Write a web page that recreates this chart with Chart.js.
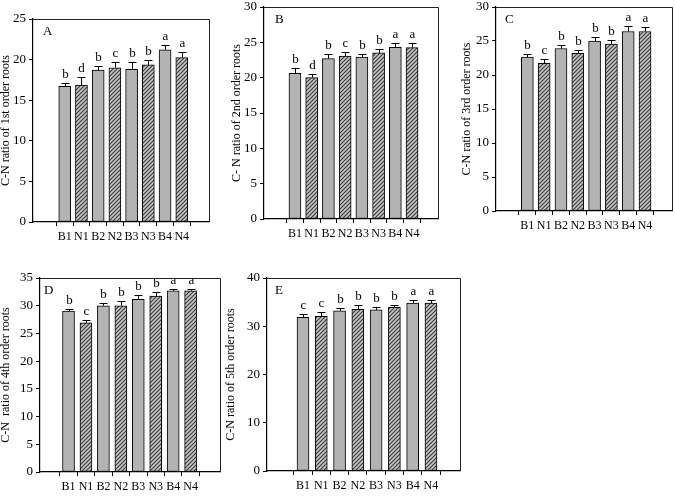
<!DOCTYPE html>
<html><head><meta charset="utf-8">
<script src="https://cdn.jsdelivr.net/npm/chart.js@4.4.1/dist/chart.umd.min.js"></script>
<style>
html,body{margin:0;padding:0;background:#fff;width:675px;height:496px;overflow:hidden}
canvas{position:absolute}
</style></head><body>
<canvas id="cA"></canvas><canvas id="cB"></canvas><canvas id="cC"></canvas><canvas id="cD"></canvas><canvas id="cE"></canvas>
<script>
const categories = ['B1','N1','B2','N2','B3','N3','B4','N4'];

const valuesA  = [16.7, 16.85, 18.7, 19.0, 18.8, 19.35, 21.2, 20.25];
const errorsA  = [0.4, 1.05, 0.5, 0.7, 0.9, 0.55, 0.6, 0.65];
const lettersA = ['b','d','b','c','b','b','a','a'];

const valuesB  = [20.6, 20.0, 22.7, 23.05, 22.9, 23.5, 24.3, 24.25];
const errorsB  = [0.7, 0.5, 0.65, 0.65, 0.45, 0.5, 0.55, 0.6];
const lettersB = ['b','d','b','c','b','b','a','a'];

const valuesC  = [22.65, 21.7, 23.9, 23.2, 25.0, 24.55, 26.4, 26.4];
const errorsC  = [0.45, 0.6, 0.5, 0.5, 0.6, 0.65, 0.8, 0.65];
const lettersC = ['b','c','b','b','b','b','a','a'];

const valuesD  = [29.05, 26.9, 30.0, 30.0, 31.15, 31.75, 32.7, 32.7];
const errorsD  = [0.4, 0.6, 0.55, 0.8, 0.75, 0.75, 0.4, 0.4];
const lettersD = ['b','c','b','b','b','b','a','a'];

const valuesE  = [31.85, 32.05, 33.2, 33.5, 33.4, 33.9, 34.8, 34.8];
const errorsE  = [0.65, 0.9, 0.65, 0.9, 0.6, 0.6, 0.55, 0.55];
const lettersE = ['c','c','b','b','b','b','a','a'];

const yTicksA = [0,5,10,15,20,25];
const yTicksB = [0,5,10,15,20,25,30];
const yTicksC = [0,5,10,15,20,25,30];
const yTicksD = [0,5,10,15,20,25,30,35];
const yTicksE = [0,10,20,30,40];

const titles = {
  A: 'C-N ratio of 1st order roots',
  B: 'C- N ratio of 2nd order roots',
  C: 'C-N ratio of 3rd order roots',
  D: 'C-N  ratio of 4th order roots',
  E: 'C-N ratio of 5th order roots'
};

const panels = [
  {key:'A', values:valuesA, errors:errorsA, letters:lettersA, yTicks:yTicksA, area:{l:33,t:19,r:209,b:222}, titleX:7,   xMin:-1.24, xMax:7.97, ldx:10},
  {key:'B', values:valuesB, errors:errorsB, letters:lettersB, yTicks:yTicksB, area:{l:264,t:7,r:438,b:219}, titleX:238, xMin:-1.2,  xMax:7.9,  ldx:11},
  {key:'C', values:valuesC, errors:errorsC, letters:lettersC, yTicks:yTicksC, area:{l:496,t:7,r:672,b:211}, titleX:468, xMin:-1.21, xMax:7.95, ldx:9},
  {key:'D', values:valuesD, errors:errorsD, letters:lettersD, yTicks:yTicksD, area:{l:40,t:278,r:220,b:472}, titleX:7,   xMin:-0.99, xMax:8.04, ldx:4},
  {key:'E', values:valuesE, errors:errorsE, letters:lettersE, yTicks:yTicksE, area:{l:267,t:278,r:460,b:471}, titleX:232, xMin:-1.31, xMax:7.93, ldx:8}
];

const FONT = '"Liberation Serif", "Times New Roman", serif';
const SOLID = '#b3b3b3';

function makeHatch(){
  const t = document.createElement('canvas');
  t.width = 4; t.height = 4;
  const g = t.getContext('2d');
  g.fillStyle = '#c4c4c4'; g.fillRect(0,0,4,4);
  g.strokeStyle = '#3a3a3a'; g.lineWidth = 1.1;
  g.beginPath();
  g.moveTo(-1,5); g.lineTo(5,-1);
  g.moveTo(-1,1); g.lineTo(1,-1);
  g.moveTo(3,5); g.lineTo(5,3);
  g.stroke();
  return g.createPattern(t,'repeat');
}

const extrasPlugin = {
  id:'extras',
  afterDatasetsDraw(chart, args, opts){
    const ctx = chart.ctx, xs = chart.scales.x, ys = chart.scales.y, ca = chart.chartArea;
    const p = opts.panel;
    ctx.save();
    ctx.strokeStyle = '#000'; ctx.lineWidth = 1;
    ctx.fillStyle = '#000';
    ctx.font = '13px ' + FONT;
    ctx.textAlign = 'center'; ctx.textBaseline = 'bottom';
    p.values.forEach((v,i)=>{
      const x = Math.round(xs.getPixelForValue(i)) + 0.5;
      const yb = ys.getPixelForValue(v);
      const yt = Math.round(ys.getPixelForValue(v + p.errors[i])) + 0.5;
      ctx.beginPath();
      ctx.moveTo(x, yb); ctx.lineTo(x, yt);
      ctx.moveTo(x-4, yt); ctx.lineTo(x+4, yt);
      ctx.stroke();
      ctx.fillText(p.letters[i], x, yt - 2);
    });
    ctx.strokeStyle = '#222';
    ctx.beginPath();
    ctx.moveTo(ca.left, Math.round(ca.top)+0.5);
    ctx.lineTo(Math.round(ca.right)+0.5, Math.round(ca.top)+0.5);
    ctx.lineTo(Math.round(ca.right)+0.5, ca.bottom);
    ctx.stroke();
    ctx.textAlign = 'left'; ctx.textBaseline = 'top';
    ctx.font = '13px ' + FONT;
    ctx.fillText(p.key, ca.left + p.ldx, ca.top + 6);
    ctx.restore();
  }
};

const hatch = makeHatch();

panels.forEach(p=>{
  const a = p.area;
  const left = p.titleX - 8, top = a.t - 12;
  const width = a.r + 6 - left, height = a.b + 32 - top;
  const cv = document.getElementById('c' + p.key);
  cv.width = width; cv.height = height;
  cv.style.left = left + 'px'; cv.style.top = top + 'px';
  cv.style.width = width + 'px'; cv.style.height = height + 'px';
  const yW = a.l - left;
  new Chart(cv, {
    type:'bar',
    data:{
      datasets:[{
        data: p.values.map((v,i)=>({x:i, y:v})),
        backgroundColor: p.values.map((v,i)=> i%2===0 ? SOLID : hatch),
        borderColor:'#000',
        borderWidth:1,
        borderSkipped:false,
        barThickness:12
      }]
    },
    options:{
      responsive:false,
      animation:false,
      devicePixelRatio:1,
      layout:{padding:{top:12,right:6,left:0,bottom:0}},
      plugins:{legend:{display:false}, tooltip:{enabled:false}, extras:{panel:p}},
      scales:{
        x:{
          type:'linear', min:p.xMin, max:p.xMax,
          afterBuildTicks(s){ s.ticks = categories.map((c,i)=>({value:i})); },
          afterFit(s){ s.height = 32; },
          ticks:{autoSkip:false, maxRotation:0, minRotation:0, padding:4, color:'#000',
                 font:{family:FONT, size:12}, callback:(v)=>categories[v] ?? ''},
          grid:{display:true, drawOnChartArea:false, drawTicks:true, tickLength:4, color:'#000'},
          border:{display:true, color:'#000', width:1.2}
        },
        y:{
          min:0, max:p.yTicks[p.yTicks.length-1],
          afterBuildTicks(s){ s.ticks = p.yTicks.map(v=>({value:v})); },
          afterFit(s){ s.width = yW; },
          ticks:{padding:3, color:'#000', font:{family:FONT, size:13}},
          grid:{display:true, drawOnChartArea:false, drawTicks:true, tickLength:4, color:'#000'},
          border:{display:true, color:'#000', width:1.2},
          title:{display:true, text:titles[p.key], color:'#000', padding:0, font:{family:FONT, size:12}}
        }
      }
    },
    plugins:[extrasPlugin]
  });
});
</script>
</body></html>
